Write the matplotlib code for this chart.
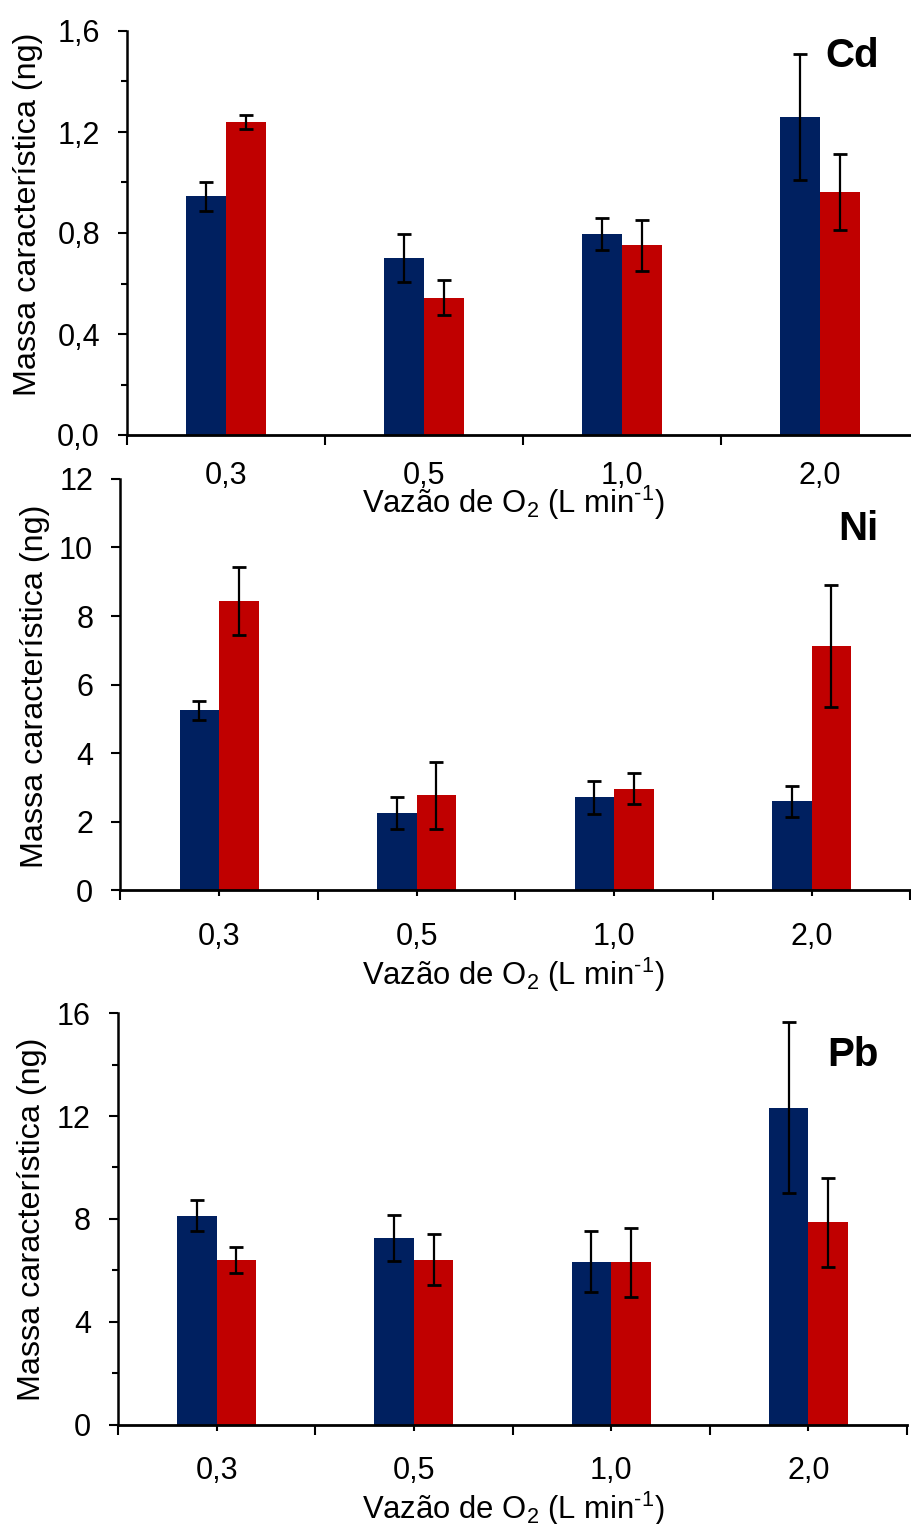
import matplotlib
matplotlib.use("Agg")
import matplotlib.pyplot as plt
import numpy as np
from matplotlib.ticker import MultipleLocator

plt.rcParams['font.family'] = ['Liberation Sans', 'DejaVu Sans']
plt.rcParams['mathtext.fontset'] = 'custom'
plt.rcParams['mathtext.rm'] = 'Liberation Sans'
plt.rcParams['mathtext.it'] = 'Liberation Sans:italic'

flows = ['0,3', '0,5', '1,0', '2,0']

cd_blue = [0.945, 0.700, 0.795, 1.258]
cd_blue_err = [0.058, 0.096, 0.064, 0.250]
cd_red = [1.240, 0.544, 0.751, 0.962]
cd_red_err = [0.028, 0.070, 0.100, 0.150]

ni_blue = [5.25, 2.25, 2.71, 2.60]
ni_blue_err = [0.27, 0.46, 0.49, 0.45]
ni_red = [8.43, 2.77, 2.97, 7.12]
ni_red_err = [0.99, 0.97, 0.44, 1.78]

pb_blue = [8.13, 7.27, 6.34, 12.32]
pb_blue_err = [0.62, 0.90, 1.19, 3.33]
pb_red = [6.41, 6.41, 6.31, 7.86]
pb_red_err = [0.50, 1.00, 1.35, 1.74]

BLUE = '#002060'
RED = '#C00000'
W, H = 912, 1524
FS = 22

fig = plt.figure(figsize=(W / 100, H / 100), dpi=100)


def px_axes(left, top, right, bottom):
    ax = fig.add_axes([left / W, 1 - bottom / H, (right - left) / W, (bottom - top) / H])
    ax.patch.set_visible(False)
    return ax


def panel(ax, blue, blue_err, red, red_err, ymax, major, minor, fmt, center_ticks):
    x = np.arange(len(flows)) + 0.5
    ax.bar(x - 0.1, blue, width=0.2, color=BLUE, zorder=2)
    ax.bar(x + 0.1, red, width=0.2, color=RED, zorder=2)
    ax.errorbar(x - 0.1, blue, yerr=blue_err, fmt='none', ecolor='black',
                elinewidth=1.6, capsize=4.8, capthick=2, zorder=3)
    ax.errorbar(x + 0.1, red, yerr=red_err, fmt='none', ecolor='black',
                elinewidth=1.6, capsize=4.8, capthick=2, zorder=3)
    ax.set_xlim(0, 4)
    ax.set_ylim(0, ymax)
    for s in ['top', 'right']:
        ax.spines[s].set_visible(False)
    ax.spines['left'].set_linewidth(1.8)
    ax.spines['bottom'].set_linewidth(2.0)
    ax.spines['left'].set_zorder(4)
    ax.spines['bottom'].set_zorder(4)
    ax.set_xticks(np.arange(5))
    ax.set_xticklabels([])
    ax.set_xticks(x, minor=True)
    ax.set_xticklabels(flows, minor=True, fontsize=FS)
    ax.tick_params(axis='x', which='major', length=7.2, width=1.5, direction='out')
    if center_ticks:
        ax.tick_params(axis='x', which='minor', length=4.5, width=1.5, pad=18)
    else:
        ax.tick_params(axis='x', which='minor', length=0, pad=19)
    ax.yaxis.set_major_locator(MultipleLocator(major))
    if minor:
        ax.yaxis.set_minor_locator(MultipleLocator(minor))
    ax.yaxis.set_major_formatter(lambda v, p: fmt.format(v).replace('.', ','))
    ax.tick_params(axis='y', which='major', length=6.5, width=1.5, labelsize=FS, pad=13)
    ax.tick_params(axis='y', which='minor', length=4.3, width=1.5)


ax1 = px_axes(127, 31, 919, 435)
panel(ax1, cd_blue, cd_blue_err, cd_red, cd_red_err, 1.6, 0.4, 0.2, '{:.1f}', False)

ax2 = px_axes(120.3, 478.9, 910.5, 890.4)
panel(ax2, ni_blue, ni_blue_err, ni_red, ni_red_err, 12, 2, None, '{:.0f}', True)

ax3 = px_axes(118, 1013.2, 907, 1424.6)
panel(ax3, pb_blue, pb_blue_err, pb_red, pb_red_err, 16, 4, 2, '{:.0f}', True)

xlabel = r'Vazão de O$_2$ (L min$^{\text{-}1}$)'
for ylab_x, ylab_y, xlab_y, name, name_y in [(28, 214, 513, 'Cd', 67),
                                              (35, 686, 985, 'Ni', 540),
                                              (32, 1219, 1519, 'Pb', 1066)]:
    fig.text(ylab_x / W, 1 - ylab_y / H, 'Massa característica (ng)', rotation=90,
             ha='center', va='center', fontsize=23.3)
    fig.text(513.5 / W, 1 - xlab_y / H, xlabel, ha='center', va='baseline', fontsize=22.3)
    fig.text(879 / W, 1 - name_y / H, name, ha='right', va='baseline',
             fontsize=29, fontweight='bold')

fig.savefig('out.png', dpi=100)
